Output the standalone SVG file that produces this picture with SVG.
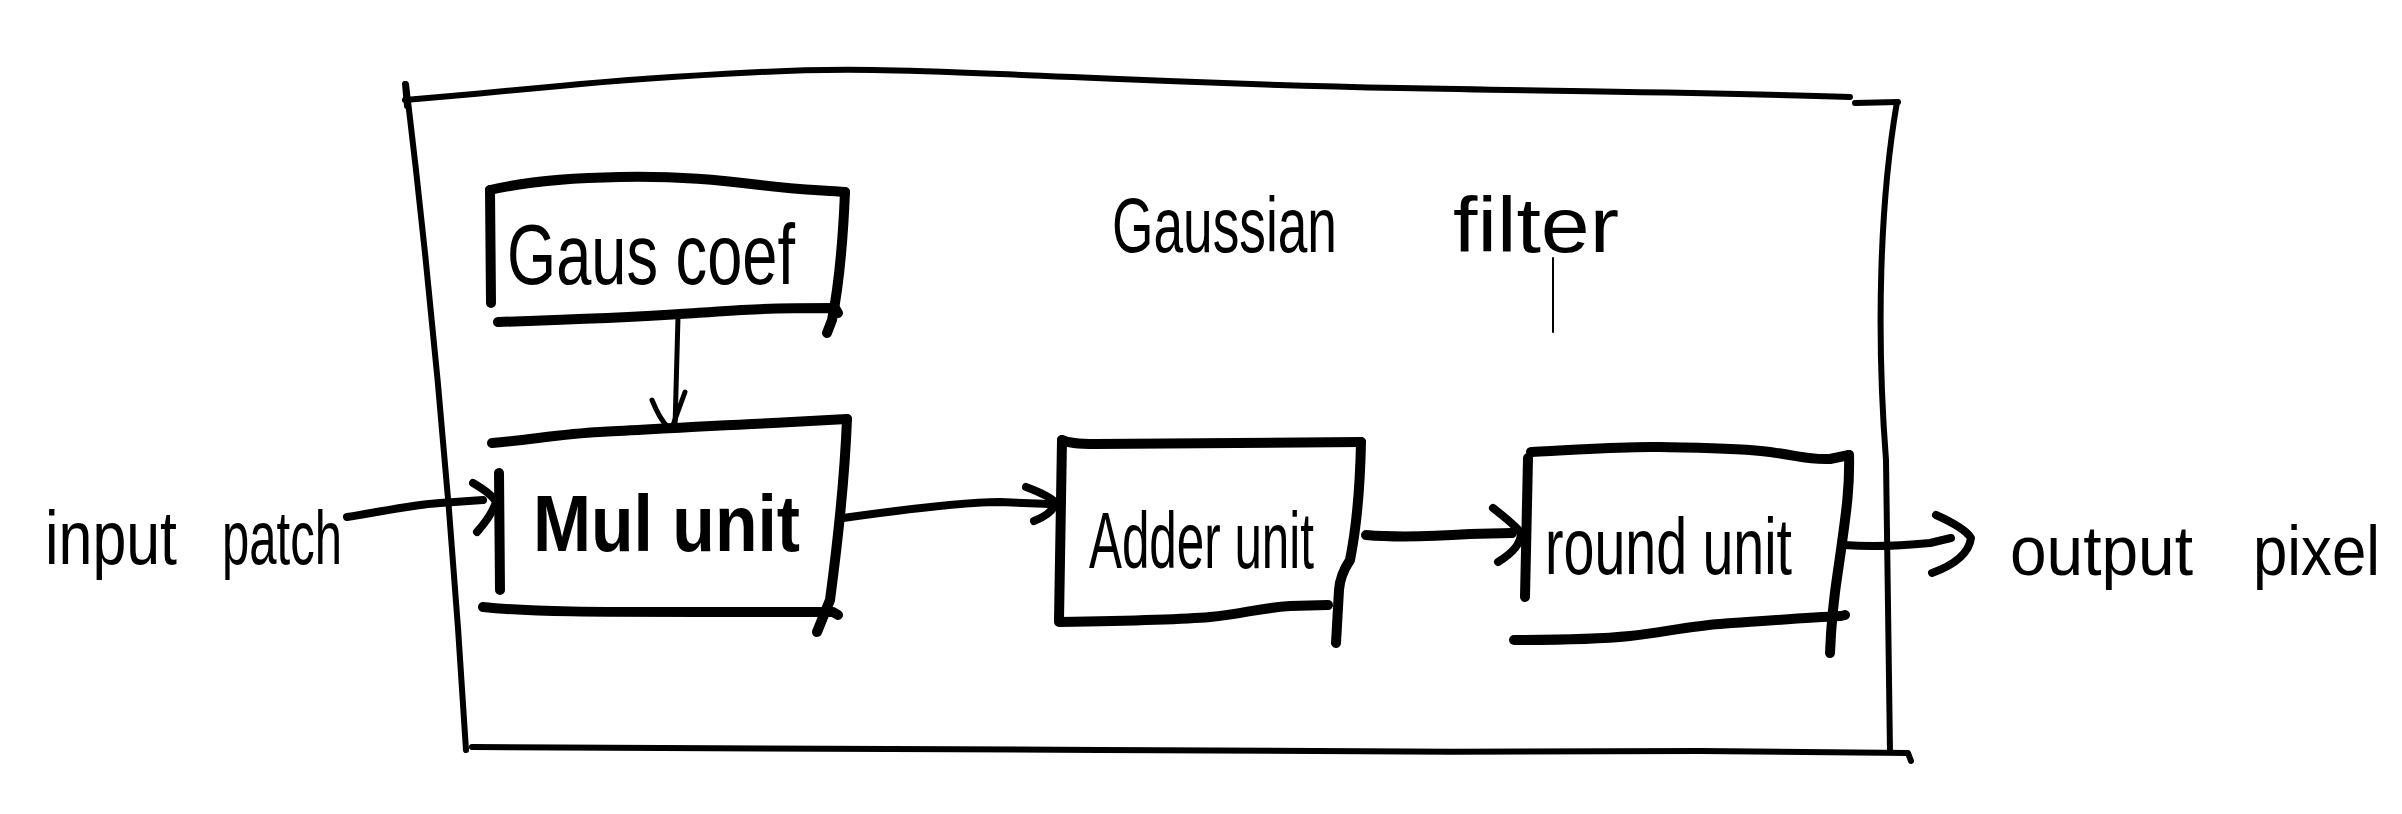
<svg xmlns="http://www.w3.org/2000/svg" width="2402" height="814" viewBox="0 0 2402 814">
<style>
.s{fill:none;stroke:#000;stroke-linecap:round;stroke-linejoin:round}
.o{stroke-width:6}
.b{stroke-width:10}
.c{stroke-width:8}
.t{font-family:"Liberation Sans",Arial,sans-serif;fill:#000}
</style>
<rect width="2402" height="814" fill="#fff"/>
<g id="gaussian-filter">
<path class="s o" d="M405,84 L407,106"/>
<path class="s o" d="M405,100 C450,96 520,90 560,86 S680,76 760,72 S900,70 1000,74 S1200,84 1400,88 S1700,92 1850,97"/>
<path class="s o" d="M1855,103 L1898,102"/>
<path class="s o" d="M406,84 Q446,417 466,750"/>
<path class="s o" d="M1897,102 C1880,200 1876,330 1886,460 L1890,752"/>
<path class="s o" d="M472,747 C700,750 900,748 1100,750 S1500,752 1700,751 L1908,753 L1911,761"/>
<text class="t" font-size="78"><tspan x="1112" y="252" textLength="225" lengthAdjust="spacingAndGlyphs">Gaussian</tspan><tspan x="1453" y="252" textLength="166" lengthAdjust="spacingAndGlyphs">filter</tspan></text>
<path class="s" stroke-width="2" d="M1553,258 L1553,332"/>
</g>
<g id="gaus-coef">
<path class="s b" d="M490,190 L491,303"/>
<path class="s b" d="M490,190 C520,183 560,178 620,177 S720,180 760,185 S820,190 845,192"/>
<path class="s b" d="M845,192 C843,240 838,290 832,320 L827,333"/>
<path class="s b" d="M498,322 C560,320 620,318 680,314 S760,308 835,308 L838,313"/>
<text class="t" x="507" y="284" font-size="86" textLength="288" lengthAdjust="spacingAndGlyphs">Gaus coef</text>
</g>
<g id="mul-unit">
<path class="s b" d="M492,443 C530,440 560,434 600,432 S700,426 773,423 L847,419"/>
<path class="s b" d="M847,419 C845,470 838,540 830,600 L817,632"/>
<path class="s b" d="M499,473 L500,590"/>
<path class="s b" d="M483,607 C530,612 600,612 700,612 L833,612 L838,615"/>
<text class="t" x="533" y="551" font-size="80" font-weight="bold" textLength="267" lengthAdjust="spacingAndGlyphs">Mul unit</text>
</g>
<g id="adder-unit">
<path class="s b" d="M1062,440 L1059,620"/>
<path class="s b" d="M1062,440 Q1070,444 1095,444 L1361,442"/>
<path class="s b" d="M1361,442 C1360,490 1356,530 1350,560 Q1340,575 1339,590 L1336,643"/>
<path class="s b" d="M1059,622 C1120,621 1177,620 1210,617 S1259,608 1290,606 L1328,605"/>
<text class="t" x="1089" y="568" font-size="80" textLength="225" lengthAdjust="spacingAndGlyphs">Adder unit</text>
</g>
<g id="round-unit">
<path class="s b" d="M1528,458 L1525,597"/>
<path class="s b" d="M1531,452 C1580,450 1620,446 1660,447 S1740,448 1770,452 S1808,460 1830,459 L1849,455"/>
<path class="s b" d="M1849,455 C1850,490 1845,520 1841,550 S1832,600 1830,653"/>
<path class="s b" d="M1514,640 C1560,640 1600,639 1630,636 S1690,626 1720,624 S1800,618 1841,616 L1845,615"/>
<text class="t" x="1545" y="574" font-size="80" textLength="247" lengthAdjust="spacingAndGlyphs">round unit</text>
</g>
<g id="input-label">
<text class="t" font-size="76"><tspan x="45" y="564" textLength="132" lengthAdjust="spacingAndGlyphs">input</tspan><tspan x="222" y="564" textLength="120" lengthAdjust="spacingAndGlyphs">patch</tspan></text>
</g>
<g id="output-label">
<text class="t" font-size="70"><tspan x="2010" y="575" textLength="183" lengthAdjust="spacingAndGlyphs">output</tspan><tspan x="2253" y="575" textLength="127" lengthAdjust="spacingAndGlyphs">pixel</tspan></text>
</g>
<g id="connectors">
<path class="s" stroke-width="5" d="M678,317 L675,427"/>
<path class="s" stroke-width="5" d="M652,400 Q660,420 668,427 L673,425 L685,392"/>
<path class="s c" d="M347,517 C380,512 410,505 440,503 L483,500"/>
<path class="s c" d="M473,483 Q492,494 496,502 Q492,515 477,532"/>
<path class="s c" d="M843,518 C900,510 960,502 1000,502 L1050,504"/>
<path class="s c" d="M1026,487 Q1050,496 1056,503 Q1052,514 1034,521"/>
<path class="s b" d="M1366,535 C1400,538 1440,536 1470,534 L1512,533"/>
<path class="s c" d="M1493,508 Q1515,525 1521,533 Q1521,548 1498,562"/>
<path class="s c" d="M1844,545 C1870,547 1900,546 1930,543 L1951,538"/>
<path class="s c" d="M1936,515 Q1965,528 1971,538 Q1968,560 1932,573"/>
</g>
</svg>
